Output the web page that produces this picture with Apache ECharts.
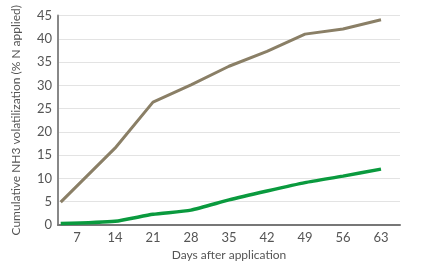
<!DOCTYPE html>
<html>
<head>
<meta charset="utf-8">
<script src="https://cdn.jsdelivr.net/npm/echarts@6/dist/echarts.min.js"></script>
<style>
  html, body { margin: 0; padding: 0; background: #fff; }
  #myChart { width: 421px; height: 277px; }
</style>
</head>
<body>
<div id="myChart"></div>
<script>
// days of measurement (first reading just after application)
const days = [4, 14, 21, 28, 35, 42, 49, 56, 63];
const dayTicks = [7, 14, 21, 28, 35, 42, 49, 56, 63];
const brownValues = [4.9, 16.5, 26.4, 30.1, 34.1, 37.3, 41.0, 42.1, 44.1];
const greenValues = [0.3, 0.8, 2.3, 3.2, 5.4, 7.3, 9.1, 10.5, 12.0];

const pairs = (xs, ys) => xs.map((x, i) => [x, ys[i]]);

const myChart = echarts.init(document.getElementById('myChart'));

const textColor = '#555';
const font = 'Lato';

const option = {
    animation: false,
    grid: { left: 58, right: 21, top: 15.5, bottom: 52 },
    xAxis: {
        type: 'value',
        min: 3.5,
        max: 66.5,
        name: 'Days after application',
        nameLocation: 'middle',
        nameGap: 24,
        nameTextStyle: { color: textColor, fontSize: 12, fontFamily: font },
        axisLine: { lineStyle: { color: '#777', width: 2 } },
        axisTick: { show: false },
        splitLine: { show: false },
        axisLabel: {
            customValues: dayTicks,
            color: textColor,
            fontSize: 13,
            fontFamily: font,
            margin: 6
        }
    },
    yAxis: {
        type: 'value',
        min: 0,
        max: 45,
        interval: 5,
        name: 'Cumulative NH3 volatilization (% N applied)',
        nameLocation: 'middle',
        nameGap: 36,
        nameTextStyle: { color: textColor, fontSize: 12, fontFamily: font },
        axisLine: { show: true, lineStyle: { color: '#888', width: 2 } },
        axisTick: { show: false },
        splitLine: { lineStyle: { color: '#e3e3e3', width: 1 } },
        axisLabel: { color: textColor, fontSize: 13, fontFamily: font, margin: 6 }
    },
    series: [
        {
            name: 'Brown',
            type: 'line',
            data: pairs(days, brownValues),
            showSymbol: false,
            lineStyle: { color: '#8a7f66', width: 3 },
            z: 3
        },
        {
            name: 'Green',
            type: 'line',
            data: pairs(days, greenValues),
            showSymbol: false,
            smooth: 0.2,
            lineStyle: { color: '#0a9a3e', width: 3.5 },
            z: 4
        }
    ]
};

myChart.setOption(option);
</script>
</body>
</html>
